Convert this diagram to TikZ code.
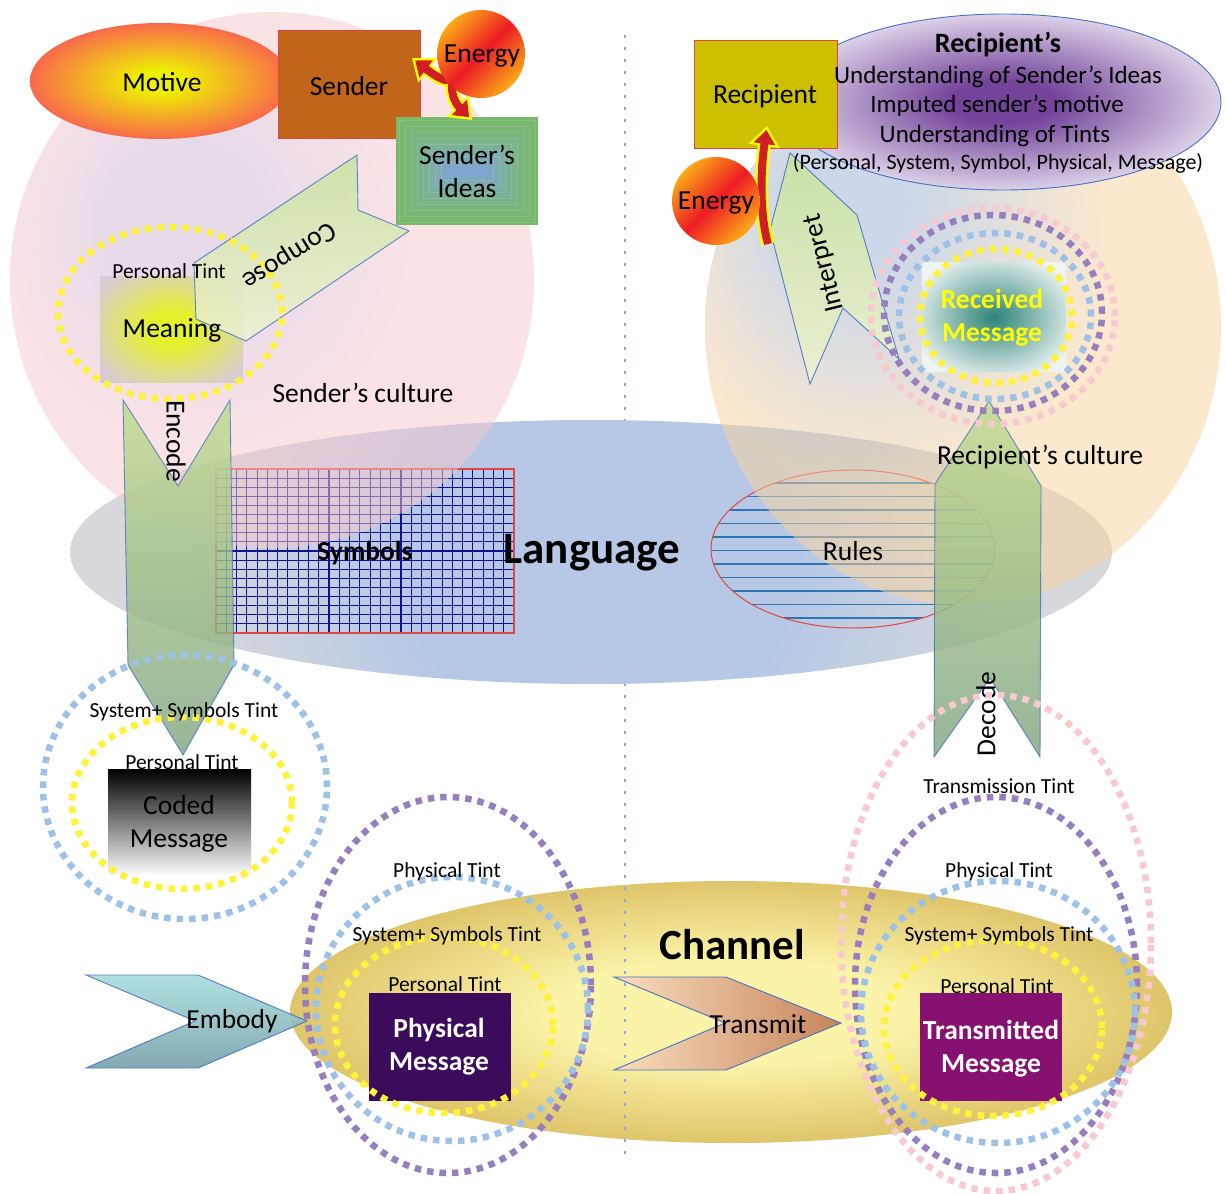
\documentclass[tikz,border=0pt]{standalone}
\usepackage{fontspec}
\setmainfont{Carlito}
\usetikzlibrary{arrows.meta}
\definecolor{langblue}{HTML}{B6C8E6}
\definecolor{langgrey}{HTML}{D6D8DC}
\definecolor{cultpink}{HTML}{F9C9CD}
\definecolor{cultlav}{HTML}{D1B8D6}
\definecolor{cblue}{HTML}{9AB1D6}
\definecolor{ccream}{HTML}{FBD49C}
\definecolor{chlight}{HTML}{FBF3A8}
\definecolor{chdark}{HTML}{DFC56A}
\definecolor{myel}{HTML}{EEF200}
\definecolor{mora}{HTML}{F5A52C}
\definecolor{mred}{HTML}{F86A4A}
\definecolor{senderbrown}{HTML}{C0651A}
\definecolor{recipolive}{HTML}{CCC000}
\definecolor{enor}{HTML}{FBAA17}
\definecolor{enred}{HTML}{ED1C24}
\definecolor{ideasgreen}{HTML}{78B96C}
\definecolor{ideasblue}{HTML}{7FA6D3}
\definecolor{meanyel}{HTML}{E4F22C}
\definecolor{meanlav}{HTML}{D8CBD8}
\definecolor{compA}{HTML}{C8E3A0}
\definecolor{compB}{HTML}{EEF1D2}
\definecolor{encA}{HTML}{BFDC8F}
\definecolor{encB}{HTML}{7DA27F}
\definecolor{recvteal}{HTML}{2C8476}
\definecolor{recvwhite}{HTML}{EEF4F3}
\definecolor{pcen}{HTML}{74449A}
\definecolor{pedge}{HTML}{DCD1E8}
\definecolor{embA}{HTML}{A8DEDD}
\definecolor{embB}{HTML}{76A0A8}
\definecolor{trA}{HTML}{F9DDBE}
\definecolor{trB}{HTML}{C6855A}
\definecolor{physpurple}{HTML}{3B0B5C}
\definecolor{transmag}{HTML}{871170}
\definecolor{tintyellow}{HTML}{FFF23A}
\definecolor{tintblue}{HTML}{9EC1E8}
\definecolor{tintpurple}{HTML}{977FBF}
\definecolor{tintpink}{HTML}{F8C9CF}
\definecolor{edgeblue}{HTML}{4472C4}
\definecolor{edgered}{HTML}{E04545}
\definecolor{gridnavy}{HTML}{10108E}
\definecolor{ruleblue}{HTML}{2E75B6}
\definecolor{divblue}{HTML}{8FAADC}
\definecolor{zapred}{HTML}{CF1F25}
\definecolor{zapyellow}{HTML}{FFFF00}
\definecolor{recvtext}{HTML}{FFFF00}
\pgfdeclareradialshading{langshade}{\pgfpoint{0bp}{0bp}}{color(0bp)=(langblue); color(9bp)=(langblue); color(19bp)=(langgrey); color(50bp)=(langgrey)}
\pgfdeclareradialshading{pinkshade}{\pgfpoint{-10bp}{6bp}}{color(0bp)=(cultlav); color(8bp)=(cultlav); color(20bp)=(cultpink); color(50bp)=(cultpink)}
\pgfdeclareradialshading{creamshade}{\pgfpoint{-13bp}{13bp}}{color(0bp)=(cblue); color(6bp)=(cblue); color(22bp)=(ccream); color(50bp)=(ccream)}
\pgfdeclareradialshading{purpshade}{\pgfpoint{0bp}{0bp}}{color(0bp)=(pcen); color(6bp)=(pcen); color(25bp)=(pedge); color(50bp)=(pedge)}
\pgfdeclareradialshading{motshade}{\pgfpoint{0bp}{0bp}}{color(0bp)=(myel); color(4bp)=(myel); color(16bp)=(mora); color(25bp)=(mred); color(50bp)=(mred)}
\pgfdeclareradialshading{meanshade}{\pgfpoint{0bp}{0bp}}{color(0bp)=(meanyel); color(8bp)=(meanyel); color(32bp)=(meanlav); color(50bp)=(meanlav)}
\pgfdeclareradialshading{recvshade}{\pgfpoint{0bp}{0bp}}{color(0bp)=(recvteal); color(30bp)=(recvwhite); color(50bp)=(recvwhite)}
\pgfdeclareradialshading{chanshade}{\pgfpoint{0bp}{0bp}}{color(0bp)=(chlight); color(10bp)=(chlight); color(25bp)=(chdark); color(50bp)=(chdark)}
\begin{document}
\begin{tikzpicture}[x=1pt,y=-1pt,
  tint/.style={line width=6.5pt, dash pattern=on 6.5pt off 6pt},
  tyel/.style={tint, draw=tintyellow},
  tblu/.style={tint, draw=tintblue},
  tpur/.style={tint, draw=tintpurple},
  tpnk/.style={tint, draw=tintpink},
  lbl/.style={inner sep=0pt, font=\fontsize{27.5}{33}\selectfont, align=center},
  blbl/.style={inner sep=0pt, font=\fontsize{27.5}{33}\selectfont\bfseries, align=center},
  small/.style={inner sep=0pt, font=\fontsize{21.5}{25}\selectfont},
  mid/.style={inner sep=0pt, font=\fontsize{25}{30}\selectfont},
  shapeedge/.style={draw=edgeblue, line width=0.9pt},
  zapout/.style={draw=zapyellow, line width=13pt, -{Triangle[length=20pt,width=30pt]}},
  zapin/.style={draw=zapred, line width=8pt, shorten >=4pt, -{Triangle[length=14pt,width=21pt]}},
]
\useasboundingbox (0,0) rectangle (1225,1193);
\fill[white] (0,0) rectangle (1225,1193);

% channel
\shade[shading=chanshade] (731,1012) ellipse [x radius=441pt, y radius=131pt];
% divider
\draw[draw=divblue, line width=1.3pt, dash pattern=on 3pt off 9pt] (625,35) -- (625,1162);
% language
\begin{scope}
  \clip (591,552) ellipse [x radius=521pt, y radius=132pt];
  \shade[shading=langshade] (600,552) circle (540pt);
\end{scope}
% symbols grid
\foreach \i in {1,...,28} {\pgfmathsetmacro\gx{216+\i*298/29}\draw[draw=gridnavy, line width=1.1pt] (\gx,469) -- (\gx,633);}
\foreach \j in {1,...,17} {\pgfmathsetmacro\gy{469+\j*164/18}\draw[draw=gridnavy, line width=1.1pt] (216,\gy) -- (514,\gy);}
\draw[draw=edgered, line width=1.1pt] (216,469) rectangle (514,633);
% rules
\begin{scope}
  \clip (853,549) ellipse [x radius=142pt, y radius=79pt];
  \foreach \k in {0,...,10} {\pgfmathsetmacro\ry{483+\k*13.5}\draw[draw=ruleblue, line width=1.4pt] (700,\ry) -- (1000,\ry);}
\end{scope}
\draw[draw=edgered, line width=1pt] (853,549) ellipse [x radius=142pt, y radius=79pt];

% cultures
\shade[shading=pinkshade, opacity=0.5] (272,280) ellipse [x radius=262pt, y radius=268pt];
\shade[shading=creamshade, opacity=0.5] (963,327) ellipse [x radius=258pt, y radius=278pt];

% encode / decode
\shadedraw[top color=encA, bottom color=encB, opacity=0.8, shapeedge] (123,400) -- (178,486) -- (230,400) -- (234,665) -- (183,755) -- (128,665) -- cycle;
\shadedraw[top color=encA, bottom color=encB, opacity=0.8, shapeedge] (989,401) -- (1041,486) -- (1040,757) -- (990,678) -- (934,757) -- (935,484) -- cycle;

% ---------- sender side ----------
\shade[shading=motshade] (160,81) ellipse [x radius=130pt, y radius=58pt];
\filldraw[fill=senderbrown, draw=edgered, line width=1pt] (278,31) rectangle (420,139);
\foreach \i in {0,...,17} {\pgfmathsetmacro\f{100*(1-(\i/17)^1.5)}\fill[ideasgreen!\f!ideasblue] (396+\i*3,117+\i*3) rectangle (538-\i*3,225-\i*3);}
\foreach \i in {1,3,...,15} {\draw[white, opacity=0.12, line width=0.8pt] (396+\i*3,117+\i*3) rectangle (538-\i*3,225-\i*3);}
\draw[zapout] (456,82) .. controls (442,82) and (430,72) .. (412,58);
\draw[zapin] (456,82) .. controls (442,82) and (430,72) .. (412,58);
\draw[zapout] (452,84) .. controls (451,98) and (458,106) .. (472,120);
\draw[zapin] (452,84) .. controls (451,98) and (458,106) .. (472,120);
\shade[top color=enor, bottom color=enor, middle color=enred, shading angle=45] (481,54) circle (44pt);

\shade[shading=meanshade] (100,276) rectangle (243,382);
\shadedraw[top color=compA, bottom color=compB, opacity=0.85, shapeedge] (357,155) -- (194,263) -- (196,319) -- (246,341) -- (409,231) -- (358,210) -- cycle;
\draw[tyel] (170,313) ellipse [x radius=112pt, y radius=86pt];

\node[lbl] (motive) at (162,82) {Motive};
\node[lbl] (sender) at (349,86) {Sender};
\node[lbl] (energy1) at (482,56) {Energy};
\node[lbl] (ideas) at (467,171) {Sender’s\\Ideas};
\node[lbl, rotate=212] (compose) at (289,255) {Compose};
\node[small] (pt1) at (169,271) {Personal Tint};
\node[lbl] (meaning) at (172,330) {Meaning};
\node[lbl] (sculture) at (363,393) {Sender’s culture};
\node[lbl, rotate=-90] (encode) at (176,441) {Encode};

% ---------- language ----------
\node[blbl] (symbols) at (365,553) {Symbols};
\node[inner sep=0pt, font=\fontsize{45}{50}\selectfont\bfseries] (language) at (592,553) {Language};
\node[lbl] (rules) at (853,551) {Rules};
\node[lbl] (rculture) at (1040,457) {Recipient’s culture};
\node[lbl, rotate=90] (decode) at (986,714) {Decode};

% ---------- recipient side ----------
\shadedraw[shading=purpshade, draw=edgeblue, line width=0.9pt] (1003,102) ellipse [x radius=218pt, y radius=88pt];
\filldraw[fill=recipolive, draw=edgered, line width=1pt] (694,41) rectangle (837,149);
\shadedraw[top color=compA, bottom color=compB, opacity=0.9, shapeedge] (790,153) -- (857,215) -- (899,359) -- (843,308) -- (810,384) -- (770,230) -- cycle;
\draw[zapout] (768,244) .. controls (760,215) and (760,175) .. (767,126);
\draw[zapin] (768,244) .. controls (760,215) and (760,175) .. (767,126);
\shade[top color=enor, bottom color=enor, middle color=enred, shading angle=45] (716,201) circle (44pt);
\shade[shading=recvshade, rounded corners=3pt] (922,262) rectangle (1066,372);
\draw[tpnk] (993,316) ellipse [x radius=122pt, y radius=108pt];
\draw[tpur] (993,313) ellipse [x radius=109pt, y radius=98pt];
\draw[tblu] (995,316) ellipse [x radius=96pt, y radius=83pt];
\draw[tyel] (996,316) ellipse [x radius=76pt, y radius=67pt];

\node[inner sep=0pt, font=\fontsize{28}{30}\selectfont\bfseries] (rtitle) at (998,45) {Recipient’s};
\node[mid] (r1) at (998,77) {Understanding of Sender’s Ideas};
\node[mid] (r2) at (997,106) {Imputed sender’s motive};
\node[mid] (r3) at (995,136) {Understanding of Tints};
\node[inner sep=0pt, font=\fontsize{22}{26}\selectfont] (r4) at (998,163) {(Personal, System, Symbol, Physical, Message)};
\node[lbl] (recipient) at (765,96) {Recipient};
\node[lbl] (energy2) at (716,203) {Energy};
\node[lbl, rotate=104] (interpret) at (825,263) {Interpret};
\node[blbl, text=recvtext] (received) at (992,318) {Received\\Message};

% ---------- coded message ----------
\shade[top color=black, bottom color=white] (108,769) rectangle (251,876);
\draw[tblu] (185,787) ellipse [x radius=142pt, y radius=132pt];
\draw[tyel] (182,803) ellipse [x radius=110pt, y radius=86pt];
\node[small] (sst1) at (184,712) {System+ Symbols Tint};
\node[small] (pt2) at (182,762) {Personal Tint};
\node[lbl, text=black] (coded) at (179,824) {Coded\\Message};

% ---------- channel content ----------
\shadedraw[top color=embA, bottom color=embB, opacity=0.9, shapeedge] (86,975) -- (198,975) -- (307,1021) -- (198,1068) -- (86,1068) -- (195,1021) -- cycle;
\node[lbl] (embody) at (232,1021) {Embody};
\shadedraw[left color=trA, right color=trB, shapeedge] (614,977) -- (726,977) -- (841,1023) -- (726,1070) -- (614,1070) -- (725,1023) -- cycle;
\node[lbl] (transmit) at (758,1024) {Transmit};
\node[inner sep=0pt, font=\fontsize{43}{48}\selectfont\bfseries] (channel) at (732,945) {Channel};

\fill[physpurple] (369,993) rectangle (511,1101);
\draw[tpur] (448,985) ellipse [x radius=143pt, y radius=188pt];
\draw[tblu] (452,1009) ellipse [x radius=136pt, y radius=132pt];
\draw[tyel] (444,1025) ellipse [x radius=109pt, y radius=88pt];
\node[small] (pht1) at (447,872) {Physical Tint};
\node[small] (sst2) at (447,936) {System+ Symbols Tint};
\node[small] (pt3) at (445,984) {Personal Tint};
\node[blbl, text=white] (physical) at (439,1047) {Physical\\Message};

\fill[transmag] (920,993) rectangle (1062,1101);
\draw[tpnk] (996,943) ellipse [x radius=155pt, y radius=248pt];
\draw[tpur] (996,985) ellipse [x radius=141pt, y radius=188pt];
\draw[tblu] (998,1012) ellipse [x radius=137pt, y radius=131pt];
\draw[tyel] (993,1028) ellipse [x radius=109pt, y radius=88pt];
\node[small] (tt) at (999,786) {Transmission Tint};
\node[small] (pht2) at (999,872) {Physical Tint};
\node[small] (sst3) at (999,936) {System+ Symbols Tint};
\node[small] (pt4) at (997,986) {Personal Tint};
\node[blbl, text=white] (transmitted) at (991,1049) {Transmitted\\Message};
\end{tikzpicture}
\end{document}
